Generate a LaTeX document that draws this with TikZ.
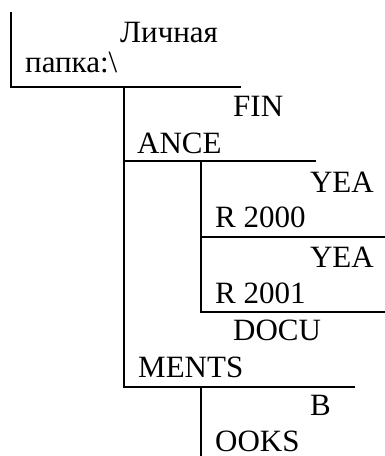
\documentclass[tikz,border=0pt]{standalone}
\usepackage{fontspec}
\setmainfont{Liberation Serif}
\begin{document}
\begin{tikzpicture}[x=1pt,y=-1pt,
  lbl/.style={inner sep=0pt,anchor=base west,font=\fontsize{31}{36}\selectfont},
  rlbl/.style={lbl,anchor=base east},
  rule/.style={line width=2pt,line cap=rect}]
\useasboundingbox (0,0) rectangle (384,456);
% coordinates
\coordinate (v1t) at (11,13);
\coordinate (root) at (11,87);
\coordinate (rootend) at (240,87);
\coordinate (fin) at (124,87);
\coordinate (finb) at (124,161);
\coordinate (finend) at (315,161);
\coordinate (y0) at (201,161);
\coordinate (y0b) at (201,237);
\coordinate (y0end) at (384,237);
\coordinate (y1b) at (201,312);
\coordinate (y1end) at (384,312);
\coordinate (docb) at (124,387);
\coordinate (docend) at (354,387);
\coordinate (bk) at (201,387);
\coordinate (bkb) at (201,456);
% lines
\draw[rule] (v1t) -- (root) -- (rootend);
\draw[rule] (fin) -- (docb) -- (docend);
\draw[rule] (finb) -- (finend);
\draw[rule] (y0) -- (y1b) -- (y1end);
\draw[rule] (y0b) -- (y0end);
\draw[rule] (bk) -- (bkb);
% labels
\node[lbl] (t1) at (120,42) {Личная};
\node[lbl] (t2) at (25,72) {папка:\textbackslash};
\node[lbl] (t3) at (233,116) {FIN};
\node[lbl] (t4) at (137,153) {ANCE};
\node[rlbl] (t5) at (374,192) {YEA};
\node[lbl] (t6) at (215,227) {R 2000};
\node[rlbl] (t7) at (374,267) {YEA};
\node[lbl] (t8) at (215,303) {R 2001};
\node[lbl] (t9) at (233,340) {DOCU};
\node[lbl] (t10) at (138,377) {MENTS};
\node[lbl] (t11) at (310,415) {B};
\node[lbl] (t12) at (215,451) {OOKS};
\end{tikzpicture}
\end{document}
